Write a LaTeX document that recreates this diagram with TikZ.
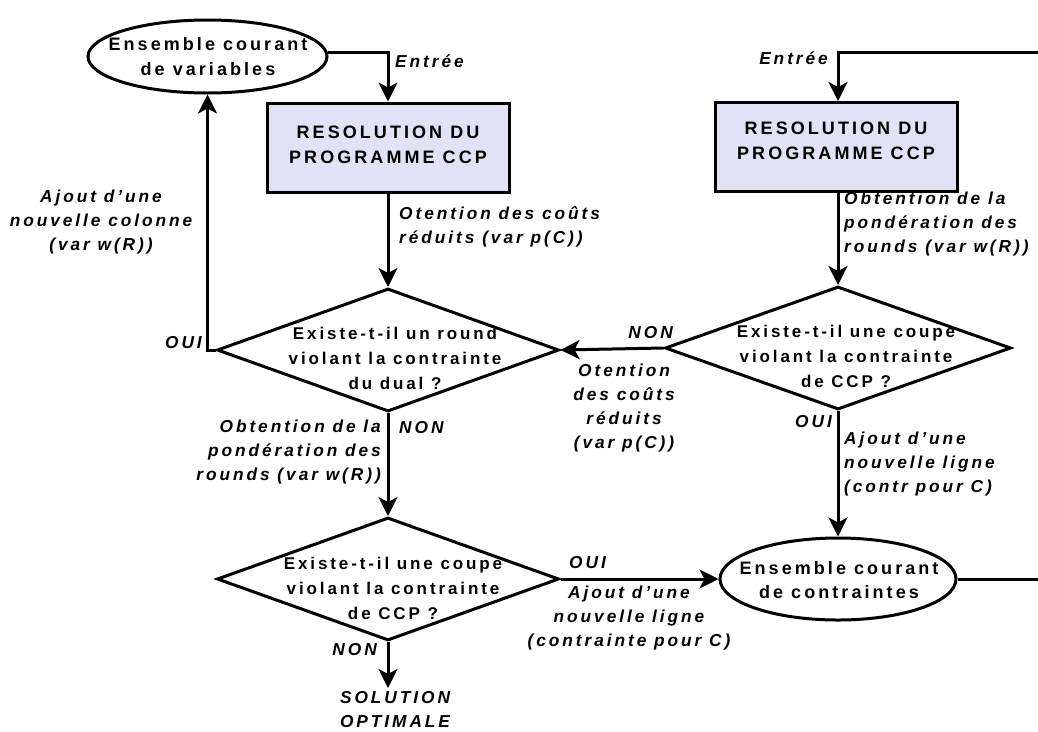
\documentclass[tikz,border=0pt]{standalone}
\usepackage{fontspec}
\setsansfont{Liberation Sans}
\newfontfamily\lblfont[LetterSpace=17]{Liberation Sans}
\usetikzlibrary{arrows.meta,shapes.geometric}
\definecolor{boxfill}{RGB}{226,226,246}
\tikzset{
  conn/.style={line width=3pt, -{Stealth[length=19pt,width=19pt,inset=5pt]}},
  plainline/.style={line width=3pt},
  shapetxt/.style={font=\lblfont\bfseries\fontsize{17}{25}\selectfont, align=center, inner sep=0pt},
  bigtxt/.style={shapetxt, font=\lblfont\bfseries\fontsize{18}{24.5}\selectfont},
  lbl/.style={font=\lblfont\bfseries\itshape\fontsize{17.3}{24}\selectfont, inner sep=0pt},
  procbox/.style={draw, line width=3pt, fill=boxfill, minimum width=242pt, minimum height=89pt, inner sep=0pt},
  ellbox/.style={draw, ellipse, line width=3pt, inner sep=0pt},
  decision/.style={draw, diamond, line width=3pt, inner sep=0pt, minimum width=342pt, minimum height=123pt},
}
\begin{document}
\begin{tikzpicture}[x=1pt,y=-1pt]
\useasboundingbox (0,0) rectangle (1038,731);
% shapes
\node[ellbox, minimum width=239pt, minimum height=73pt] (ell1) at (207.5,56.5) {};
\node[bigtxt] (ell1t) at (208,56.5) {Ensemble courant\\de variables};
\node[procbox] (box1) at (388,147.5) {};
\node[bigtxt] (box1t) at (388,145) {RESOLUTION DU\\PROGRAMME CCP};
\node[procbox] (box2) at (836,147) {};
\node[bigtxt] (box2t) at (836,141) {RESOLUTION DU\\PROGRAMME CCP};
\node[decision] (d1) at (388,350) {};
\node[shapetxt] (d1t) at (395,358) {Existe-t-il un round\\violant la contrainte\\du dual ?};
\node[decision] (d2) at (388,579) {};
\node[shapetxt] (d2t) at (393,588) {Existe-t-il une coupe\\violant la contrainte\\de CCP ?};
\node[decision, minimum width=346pt] (d3) at (838,348) {};
\node[shapetxt] (d3t) at (846,356) {Existe-t-il une coupe\\violant la contrainte\\de CCP ?};
\node[ellbox, minimum width=236pt, minimum height=82pt] (ell2) at (838,579) {};
\node[bigtxt] (ell2t) at (839,580) {Ensemble courant\\de contraintes};
\coordinate (solc) at (388,688);
\node[lbl, align=center] (sol) at (395,710) {SOLUTION\\OPTIMALE};
\coordinate (rb) at (1060,579);
\coordinate (rt) at (1060,52);
% connectors
\draw[conn] (ell1.2) -| (box1.north);
\draw[conn] (box1.south) -- (d1.north);
\draw[conn] (d1.west) -| (ell1.south);
\draw[conn] (d1.south) -- (d2.north);
\draw[conn] (d2.south) -- (solc);
\draw[conn] (d2.east) -- (ell2.west);
\draw[conn] (d3.west) -- (d1.east);
\draw[conn] (box2.south -| d3.north) -- (d3.north);
\draw[conn] (d3.south) -- (ell2.north);
\draw[plainline] (ell2.east) -- (rb) -- (rt);
\draw[conn] (rt) -| (d3.north |- box2.north);
% labels
\node[lbl, anchor=west] (lEntree1) at (395,61) {Entrée};
\node[lbl, anchor=east] (lEntree2) at (828,58) {Entrée};
\node[lbl, anchor=west, align=left] (lRed1) at (399,226.5) {Otention des coûts\\réduits (var p(C))};
\node[lbl, align=center] (lAjCol) at (101,222) {Ajout d’une\\nouvelle colonne\\(var w(R))};
\node[lbl, anchor=east] (lOui1) at (202,343) {OUI};
\node[lbl, anchor=west] (lNon1) at (399,428) {NON};
\node[lbl, anchor=east, align=right] (lPond1) at (381,452) {Obtention de la\\pondération des\\rounds (var w(R))};
\node[lbl, anchor=east] (lNon2) at (377,650) {NON};
\node[lbl, anchor=west] (lOui2) at (569,563) {OUI};
\node[lbl, align=center] (lAjLig1) at (629,618) {Ajout d’une\\nouvelle ligne\\(contrainte pour C)};
\node[lbl, anchor=east] (lNon3) at (673,333) {NON};
\node[lbl, align=center] (lRed2) at (624,408) {Otention\\des coûts\\réduits\\(var p(C))};
\node[lbl, anchor=east] (lOui3) at (832,422) {OUI};
\node[lbl, anchor=west, align=left] (lAjLig2) at (844,464) {Ajout d’une\\nouvelle ligne\\(contr pour C)};
\node[lbl, anchor=west, align=left] (lPond2) at (844,224) {Obtention de la\\pondération des\\rounds (var w(R))};
\end{tikzpicture}
\end{document}
